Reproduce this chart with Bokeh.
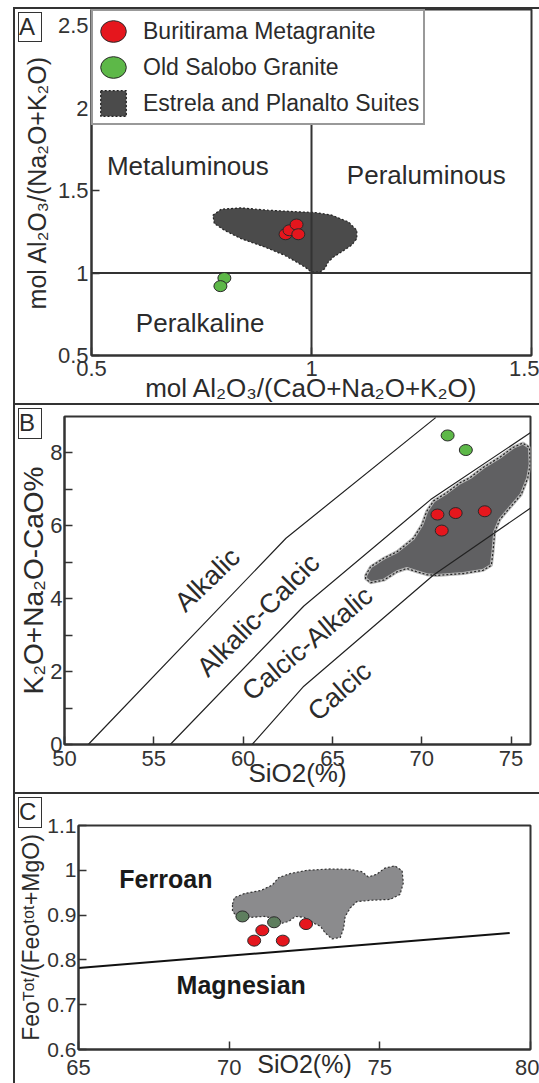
from bokeh.plotting import figure
from bokeh.layouts import column
from bokeh.models import (Range1d, FixedTicker, NumeralTickFormatter, Legend, LegendItem, Div)
from bokeh.core.properties import value
from bokeh.embed import file_html
from bokeh.resources import INLINE

FONT = "Liberation Sans"
PW = 526  # panel width incl. its 2px left border (13px page margin + 526 = 539)

# ---------------- Panel A data ----------------
a_buri_x = [0.941, 0.950, 0.966, 0.970]
a_buri_y = [1.236, 1.260, 1.295, 1.236]
a_salobo_x = [0.802, 0.793]
a_salobo_y = [0.970, 0.921]
a_field_x = [0.776, 0.795, 0.840, 0.901, 0.970, 1.008, 1.046, 1.084, 1.103, 1.103, 1.091, 1.068,
             1.050, 1.038, 1.030, 1.019, 1.000, 0.985, 0.966, 0.939, 0.893, 0.840, 0.802, 0.779]
a_field_y = [1.352, 1.388, 1.396, 1.382, 1.372, 1.368, 1.352, 1.311, 1.260, 1.209, 1.169, 1.128,
             1.098, 1.067, 1.026, 1.006, 1.006, 1.037, 1.067, 1.108, 1.159, 1.209, 1.260, 1.301]
a_vline_x = [1.0, 1.0]
a_vline_y = [0.5, 2.6]
a_hline_x = [0.5, 1.5]
a_hline_y = [1.0, 1.0]
a_region_names = ["Metaluminous", "Peraluminous", "Peralkaline"]
a_region_x = [0.719, 1.261, 0.747]
a_region_y = [1.650, 1.595, 0.695]
a_ticks = [0.5, 1.0, 1.5, 2.0, 2.5]

# ---------------- Panel B data ----------------
b_buri_x = [70.88, 71.90, 73.53, 71.12]
b_buri_y = [6.31, 6.35, 6.40, 5.87]
b_salobo_x = [71.45, 72.47]
b_salobo_y = [8.48, 8.08]
b_field_x = [66.86, 67.14, 67.88, 68.62, 69.54, 70.01, 70.28, 70.66, 71.40, 72.14, 72.70, 73.44,
             74.37, 75.11, 75.66, 76.03, 76.07, 75.94, 75.57, 74.92, 74.37, 74.09, 73.99, 73.90,
             73.44, 72.32, 70.84, 70.28, 69.73, 69.17, 68.62, 67.88, 67.14, 66.86]
b_field_y = [4.64, 4.88, 5.11, 5.29, 5.66, 6.03, 6.40, 6.68, 6.91, 7.18, 7.32, 7.60,
             7.88, 8.15, 8.27, 8.15, 7.69, 7.32, 6.86, 6.49, 6.17, 5.84, 5.29, 4.92,
             4.78, 4.69, 4.64, 4.66, 4.74, 4.83, 4.74, 4.51, 4.44, 4.55]
b_alk_x = [51.33, 62.40, 70.78]
b_alk_y = [0.0, 5.66, 8.97]
b_alkcal_x = [55.92, 63.40, 70.50, 76.10]
b_alkcal_y = [0.0, 3.80, 6.72, 8.56]
b_calalk_x = [60.50, 63.40, 70.66, 76.10]
b_calalk_y = [0.0, 1.60, 4.65, 6.49]
b_region_names = ["Alkalic", "Alkalic-Calcic", "Calcic-Alkalic", "Calcic"]
b_region_x = [58.00, 60.85, 63.60, 65.40]
b_region_y = [4.52, 3.55, 2.77, 1.46]
b_region_angle = [44, 45, 40, 41]
b_xticks = [50, 55, 60, 65, 70, 75]
b_yticks = [0, 2, 4, 6, 8]
b_yminor = [1, 3, 5, 7]

# ---------------- Panel C data ----------------
c_buri_x = [71.10, 70.83, 71.78, 72.55]
c_buri_y = [0.866, 0.843, 0.843, 0.880]
c_salobo_x = [70.44, 71.49]
c_salobo_y = [0.897, 0.884]
c_field_x = [70.11, 70.17, 70.50, 71.05, 71.43, 71.65, 72.04, 72.58, 73.36, 74.02, 74.40, 74.62,
             74.89, 75.17, 75.50, 75.74, 75.78, 75.67, 75.34, 74.68, 74.23, 74.02, 73.85, 73.80,
             73.69, 73.41, 73.19, 73.03, 72.81, 72.48, 72.20, 71.98, 71.76, 71.54, 71.16, 70.72,
             70.27, 70.11]
c_field_y = [0.924, 0.939, 0.948, 0.955, 0.967, 0.984, 0.993, 1.000, 1.003, 1.002, 0.997, 0.985,
             0.991, 1.005, 1.010, 0.999, 0.972, 0.946, 0.935, 0.933, 0.930, 0.916, 0.897, 0.871,
             0.850, 0.847, 0.860, 0.875, 0.882, 0.895, 0.897, 0.886, 0.882, 0.892, 0.897, 0.895,
             0.895, 0.909]
c_line_x = [65.0, 79.31]
c_line_y = [0.782, 0.860]
c_region_names = ["Ferroan", "Magnesian"]
c_region_x = [67.90, 70.40]
c_region_y = [0.980, 0.743]
c_xticks = [65, 70, 75, 80]
c_yticks = [0.6, 0.7, 0.8, 0.9, 1.0, 1.1]

RED = "#e5161d"
GREEN = "#5db848"
GREEN_C = "#5e7e5e"
EDGE = "#2a2a2a"
TXT = "#2b2b2b"
FRAME_CSS = {"border-top": "2px solid #333333", "border-left": "2px solid #333333"}


def base_fig(h, xr, yr, left, right, top, bottom):
    p = figure(width=PW, height=h, x_range=Range1d(*xr), y_range=Range1d(*yr),
               output_backend="svg", toolbar_location=None, frame_align=False,
               min_border_left=left, min_border_right=right,
               min_border_top=top, min_border_bottom=bottom, styles=FRAME_CSS)
    p.xgrid.visible = False
    p.ygrid.visible = False
    p.outline_line_color = "#333333"
    p.outline_line_width = 2
    p.background_fill_color = "white"
    p.border_fill_color = "white"
    for ax in (p.xaxis[0], p.yaxis[0]):
        ax.axis_line_color = "#333333"
        ax.axis_line_width = 2
        ax.major_tick_in = 8
        ax.major_tick_out = 0
        ax.minor_tick_in = 0
        ax.minor_tick_out = 0
        ax.major_tick_line_color = "#333333"
        ax.major_tick_line_width = 1.5
        ax.major_label_text_font = FONT
        ax.major_label_text_font_size = "22px"
        ax.major_label_text_color = "#333333"
        ax.axis_label_text_font = FONT
        ax.axis_label_text_font_style = "normal"
        ax.axis_label_text_color = TXT
    return p


def letter_box(letter, top, h):
    html = ('<div style="font-family:\'Liberation Sans\';font-size:24px;line-height:%dpx;'
            'color:%s;text-align:center;">%s</div>' % (h - 3, TXT, letter))
    return Div(text=html, width=24, height=h,
               styles={"position": "absolute", "left": "0px", "top": "%dpx" % top,
                       "z-index": "10", "border": "1.5px solid #333333",
                       "background-color": "white", "box-sizing": "border-box",
                       "overflow": "visible"})


# ================= Panel A =================
HA = 396
pA = base_fig(HA, (0.5, 1.5), (0.5, 2.6), 76, 10, 0, 50)
field_a = pA.patch(a_field_x, a_field_y, fill_color="#4b4b4b", line_color="#222222",
                   line_width=1.2, line_dash="2 2")
pA.line(a_vline_x, a_vline_y, line_color="#333333", line_width=2)
pA.line(a_hline_x, a_hline_y, line_color="#333333", line_width=2)
buri_a = pA.ellipse(a_buri_x, a_buri_y, width=13, height=11, width_units="screen",
                    height_units="screen", fill_color=RED, line_color=EDGE, line_width=1)
sal_a = pA.ellipse(a_salobo_x, a_salobo_y, width=13, height=11, width_units="screen",
                   height_units="screen", fill_color=GREEN, line_color=EDGE, line_width=1)
pA.text(a_region_x, a_region_y, text=a_region_names, text_font=value(FONT),
        text_font_size="26px", text_color=TXT, text_align="center", text_baseline="middle")
pA.xaxis.ticker = FixedTicker(ticks=a_ticks)
pA.yaxis.ticker = FixedTicker(ticks=a_ticks)
pA.xaxis.formatter = NumeralTickFormatter(format="0.[0]")
pA.yaxis.formatter = NumeralTickFormatter(format="0.[0]")
pA.yaxis.axis_label = "mol Al\u2082O\u2083/(Na\u2082O+K\u2082O)"
pA.xaxis.axis_label = "mol Al\u2082O\u2083/(CaO+Na\u2082O+K\u2082O)"
pA.yaxis.axis_label_text_font_size = "25px"
pA.xaxis.axis_label_text_font_size = "26px"
pA.yaxis.major_label_standoff = 3
pA.yaxis.axis_label_standoff = 4
pA.xaxis.major_label_standoff = 5
pA.xaxis.axis_label_standoff = -6
legend = Legend(items=[LegendItem(label="Buritirama Metagranite", renderers=[buri_a]),
                       LegendItem(label="Old Salobo Granite", renderers=[sal_a]),
                       LegendItem(label="Estrela and Planalto Suites", renderers=[field_a])],
                location="top_left", margin=0, padding=4, spacing=4,
                glyph_width=32, glyph_height=32, label_standoff=14,
                label_text_font=FONT, label_text_font_size="23px", label_text_color=TXT,
                border_line_color="#333333", border_line_width=2,
                background_fill_color="white", background_fill_alpha=1)
pA.add_layout(legend)

# ================= Panel B =================
HB = 389
pB = base_fig(HB, (50, 76.09), (0, 9.0), 44, 11, 11, 50)
pB.patch(b_field_x, b_field_y, fill_color="#606062", line_color="#b5b5b5", line_width=3)
pB.patch(b_field_x, b_field_y, fill_alpha=0, line_color="#222222", line_width=1.2,
         line_dash="2 2")
for xs, ys in ((b_alk_x, b_alk_y), (b_alkcal_x, b_alkcal_y), (b_calalk_x, b_calalk_y)):
    pB.line(xs, ys, line_color="#222222", line_width=1.2)
pB.ellipse(b_buri_x, b_buri_y, width=13, height=11, width_units="screen",
           height_units="screen", fill_color=RED, line_color=EDGE, line_width=1)
pB.ellipse(b_salobo_x, b_salobo_y, width=13, height=11, width_units="screen",
           height_units="screen", fill_color=GREEN, line_color=EDGE, line_width=1)
pB.text(b_region_x, b_region_y, text=b_region_names, angle=b_region_angle, angle_units="deg",
        text_font=value(FONT), text_font_size="27px", text_color=TXT,
        text_align="center", text_baseline="middle")
pB.xaxis.ticker = FixedTicker(ticks=b_xticks)
pB.yaxis.ticker = FixedTicker(ticks=b_yticks, minor_ticks=b_yminor)
pB.yaxis.minor_tick_in = 8
pB.yaxis.minor_tick_line_color = "#333333"
pB.yaxis.minor_tick_line_width = 1.5
pB.yaxis.axis_label = "K\u2082O+Na\u2082O-CaO%"
pB.xaxis.axis_label = "SiO2(%)"
pB.yaxis.axis_label_text_font_size = "28px"
pB.xaxis.axis_label_text_font_size = "26px"
pB.yaxis.major_label_standoff = 2
pB.yaxis.axis_label_standoff = -2
pB.xaxis.major_label_standoff = 6
pB.xaxis.axis_label_standoff = -11

# ================= Panel C =================
HC = 291
pC = base_fig(HC, (65, 80), (0.6, 1.1), 59, 11, 31, 36)
pC.patch(c_field_x, c_field_y, fill_color="#8b8b8d", line_color="#333333",
         line_width=1.2, line_dash="2 2")
pC.line(c_line_x, c_line_y, line_color="#111111", line_width=2)
pC.ellipse(c_salobo_x, c_salobo_y, width=13, height=11, width_units="screen",
           height_units="screen", fill_color=GREEN_C, line_color=EDGE, line_width=1)
pC.ellipse(c_buri_x, c_buri_y, width=13, height=11, width_units="screen",
           height_units="screen", fill_color=RED, line_color=EDGE, line_width=1)
pC.text(c_region_x, c_region_y, text=c_region_names, text_font=value(FONT),
        text_font_size="25px", text_font_style="bold", text_color="#1a1a1a",
        text_align="center", text_baseline="middle")
pC.xaxis.ticker = FixedTicker(ticks=c_xticks)
pC.yaxis.ticker = FixedTicker(ticks=c_yticks)
pC.yaxis.formatter = NumeralTickFormatter(format="0.[0]")
pC.yaxis.major_label_text_font_size = "21px"
pC.yaxis.axis_label = "Feo\u1d40\u1d52\u1d57/(Feo\u1d57\u1d52\u1d57+MgO)"
pC.xaxis.axis_label = "SiO2(%)"
pC.yaxis.axis_label_text_font_size = "23px"
pC.xaxis.axis_label_text_font_size = "25px"
pC.yaxis.major_label_standoff = 2
pC.yaxis.axis_label_standoff = 0
pC.xaxis.major_label_standoff = 10
pC.xaxis.axis_label_standoff = -28

letters = [letter_box("A", 0, 30), letter_box("B", 396, 31), letter_box("C", 785, 31)]
layout = column(pA, pB, pC, *letters, spacing=0, margin=(7, 0, 0, 13),
                styles={"position": "relative"})
open("out.html", "w").write(file_html(layout, INLINE))
